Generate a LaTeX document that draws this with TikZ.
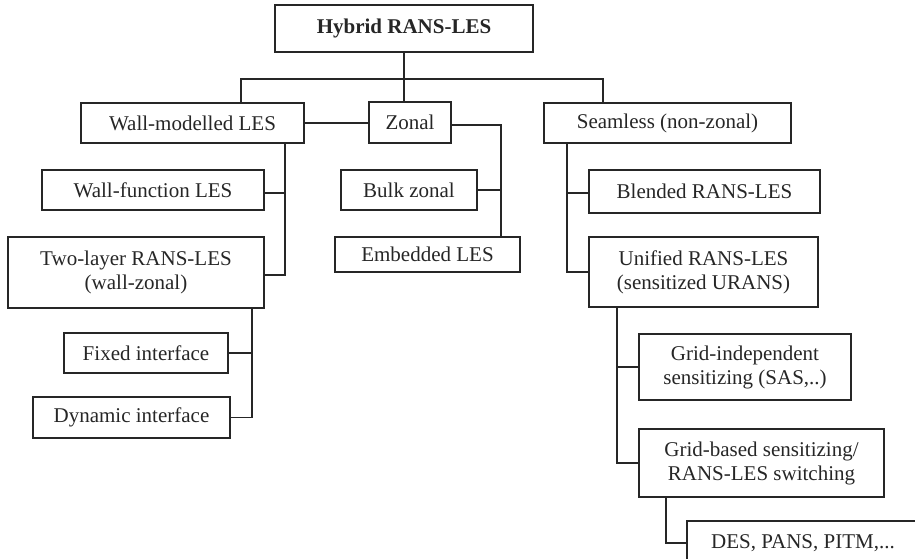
\documentclass[tikz,border=0pt]{standalone}
\usepackage{fontspec}
\setmainfont{Liberation Serif}
\usepackage{tikz}
\usetikzlibrary{calc}

\tikzset{
  box/.style={draw=black!85,line width=1.1pt,rectangle,inner sep=0pt,align=center,
    text=black!85,font=\fontsize{21}{24}\selectfont},
  link/.style={draw=black!85,line width=1.1pt}
}

\begin{document}
\begin{tikzpicture}[x=1pt,y=-1pt]
      \useasboundingbox (0,0) rectangle (915,559);
      \clip (0,0) rectangle (915,559);
      % top level
      \node[box,minimum width=258,minimum height=47] (root) at (404,28.5) {\textbf{Hybrid RANS-LES}};
      \node[box,minimum width=223,minimum height=40] (wm) at (192.5,123) {Wall-modelled LES};
      \node[box,minimum width=82,minimum height=41] (zonal) at (410,122.5) {Zonal};
      \node[box,minimum width=247,minimum height=40] (seam) at (667.5,123) {Seamless (non-zonal)};
      % wall-modelled branch
      \node[box,minimum width=222,minimum height=40] (wf) at (153,190) {Wall-function LES};
      \node[box,minimum width=256,minimum height=71] (tl) at (136,272.5) {Two-layer RANS-LES\\(wall-zonal)};
      \node[box,minimum width=164,minimum height=40] (fixed) at (146,353) {Fixed interface};
      \node[box,minimum width=197,minimum height=41] (dyn) at (131.5,417.5) {Dynamic interface};
      % zonal branch
      \node[box,minimum width=136,minimum height=40] (bulk) at (409,190) {Bulk zonal};
      \node[box,minimum width=185,minimum height=35] (emb) at (427.5,254.5) {Embedded LES};
      % seamless branch
      \node[box,minimum width=231,minimum height=43] (blend) at (704.5,191.5) {Blended RANS-LES};
      \node[box,minimum width=229,minimum height=70] (unif) at (703.5,272) {Unified RANS-LES\\(sensitized URANS)};
      \node[box,minimum width=212,minimum height=66] (gi) at (745,367) {Grid-independent\\sensitizing (SAS,..)};
      \node[box,minimum width=245,minimum height=68] (gb) at (761.5,463) {Grid-based sensitizing/\\RANS-LES switching};
      \node[box,minimum width=232,minimum height=44] (des) at (803,543) {DES, PANS, PITM,...};

      % spines
      \coordinate (bar) at (404,79);
      \coordinate (wsp) at (285,0);
      \coordinate (tsp) at (252,0);
      \coordinate (zsp) at (501,125);
      \coordinate (ssp) at (567,0);
      \coordinate (usp) at (617,0);
      \coordinate (gsp) at (666,0);

      \draw[link] (root) -- (root |- zonal.north);
      \draw[link] (wm.north -| 241,0) |- (bar) -| (seam.north -| 603,0);
      \draw[link] (wm.east) -- (wm.east -| zonal.west);
      \draw[link] (zonal.east |- zsp) -- (zsp) -- (zsp |- emb.north);
      \draw[link] (bulk.east) -- (bulk.east -| zsp);
      \draw[link] (wm.south -| wsp) |- ([yshift=-2.5pt]tl.east);
      \draw[link] ([yshift=-3pt]wf.east) -- ([yshift=-3pt]wf.east -| wsp);
      \draw[link] (tl.south -| tsp) |- (dyn.east);
      \draw[link] (fixed.east) -- (fixed.east -| tsp);
      \draw[link] (seam.south -| ssp) |- (unif.west);
      \draw[link] ([yshift=-1.5pt]blend.west) -- ([yshift=-1.5pt]blend.west -| ssp);
      \draw[link] (unif.south -| usp) |- (gb.west);
      \draw[link] (gi.west) -- (gi.west -| usp);
      \draw[link] (gb.south -| gsp) |- (des.west);
    \end{tikzpicture}
\end{document}
